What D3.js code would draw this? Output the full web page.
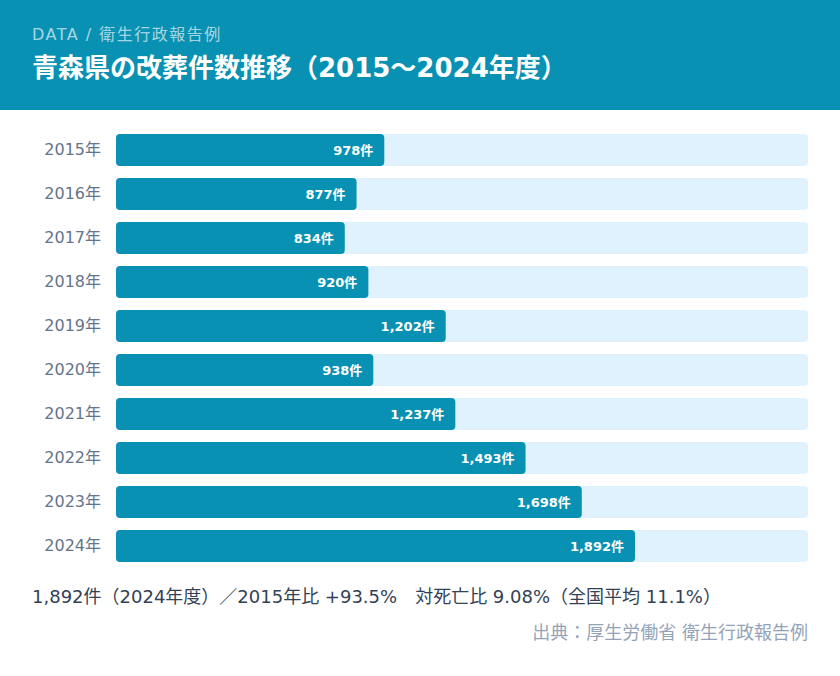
<!DOCTYPE html>
<html><head><meta charset="utf-8">
<script src="https://cdn.jsdelivr.net/npm/d3@7"></script>
<style>
html,body{margin:0;padding:0;background:#fff;}
svg{display:block;font-family:"DejaVu Sans","Noto Sans CJK JP",sans-serif;}
</style></head>
<body><svg id="c" width="840" height="676"></svg>
<script>
const years = ["2015年","2016年","2017年","2018年","2019年","2020年","2021年","2022年","2023年","2024年"];
const counts = [978, 877, 834, 920, 1202, 938, 1237, 1493, 1698, 1892];
const subtitle = "DATA / 衛生行政報告例";
const title = "青森県の改葬件数推移（2015～2024年度）";
const summary = "1,892件（2024年度）／2015年比 +93.5%　対死亡比 9.08%（全国平均 11.1%）";
const source = "出典：厚生労働省 衛生行政報告例";

const svg = d3.select("#c");
svg.append("rect").attr("x",0).attr("y",0).attr("width",840).attr("height",110).attr("fill","#0891b2");
svg.append("text").attr("x",32).attr("y",40).attr("font-size",16).attr("letter-spacing",1.5)
  .attr("fill","rgba(255,255,255,0.65)").text(subtitle);
svg.append("text").attr("x",32).attr("y",77).attr("font-size",26).attr("font-weight",700).attr("fill","#fff").text(title);

const x = d3.scaleLinear().domain([0, d3.max(counts)/0.75]).range([116, 808]);
const y = d3.scaleBand().domain(years).range([128, 568]).paddingInner(0.27).paddingOuter(0.135);

const g = svg.append("g");
const rows = g.selectAll("g.row").data(years.map((yr,i)=>({yr, v:counts[i]}))).join("g").attr("class","row");
rows.append("rect").attr("x",x(0)).attr("y",d=>y(d.yr)).attr("width",x.range()[1]-x(0)).attr("height",y.bandwidth())
  .attr("rx",4).attr("fill","#e0f2fe");
rows.append("rect").attr("x",x(0)).attr("y",d=>y(d.yr)).attr("width",d=>x(d.v)-x(0)).attr("height",y.bandwidth())
  .attr("rx",4).attr("fill","#0891b2");
rows.append("text").attr("x",101).attr("y",d=>y(d.yr)+y.bandwidth()/2).attr("dy","0.33em")
  .attr("text-anchor","end").attr("font-size",16).attr("fill","#64748b").text(d=>d.yr);
rows.append("text").attr("x",d=>x(d.v)-11).attr("y",d=>y(d.yr)+y.bandwidth()/2).attr("dy","0.35em")
  .attr("text-anchor","end").attr("font-size",13).attr("font-weight",700).attr("fill","#fff")
  .text(d=>d3.format(",")(d.v)+"件");

svg.append("text").attr("x",32).attr("y",603).attr("font-size",18).attr("fill","#334155").text(summary);
svg.append("text").attr("x",808).attr("y",639).attr("text-anchor","end").attr("font-size",18).attr("fill","#94a3b8").text(source);
</script></body></html>
